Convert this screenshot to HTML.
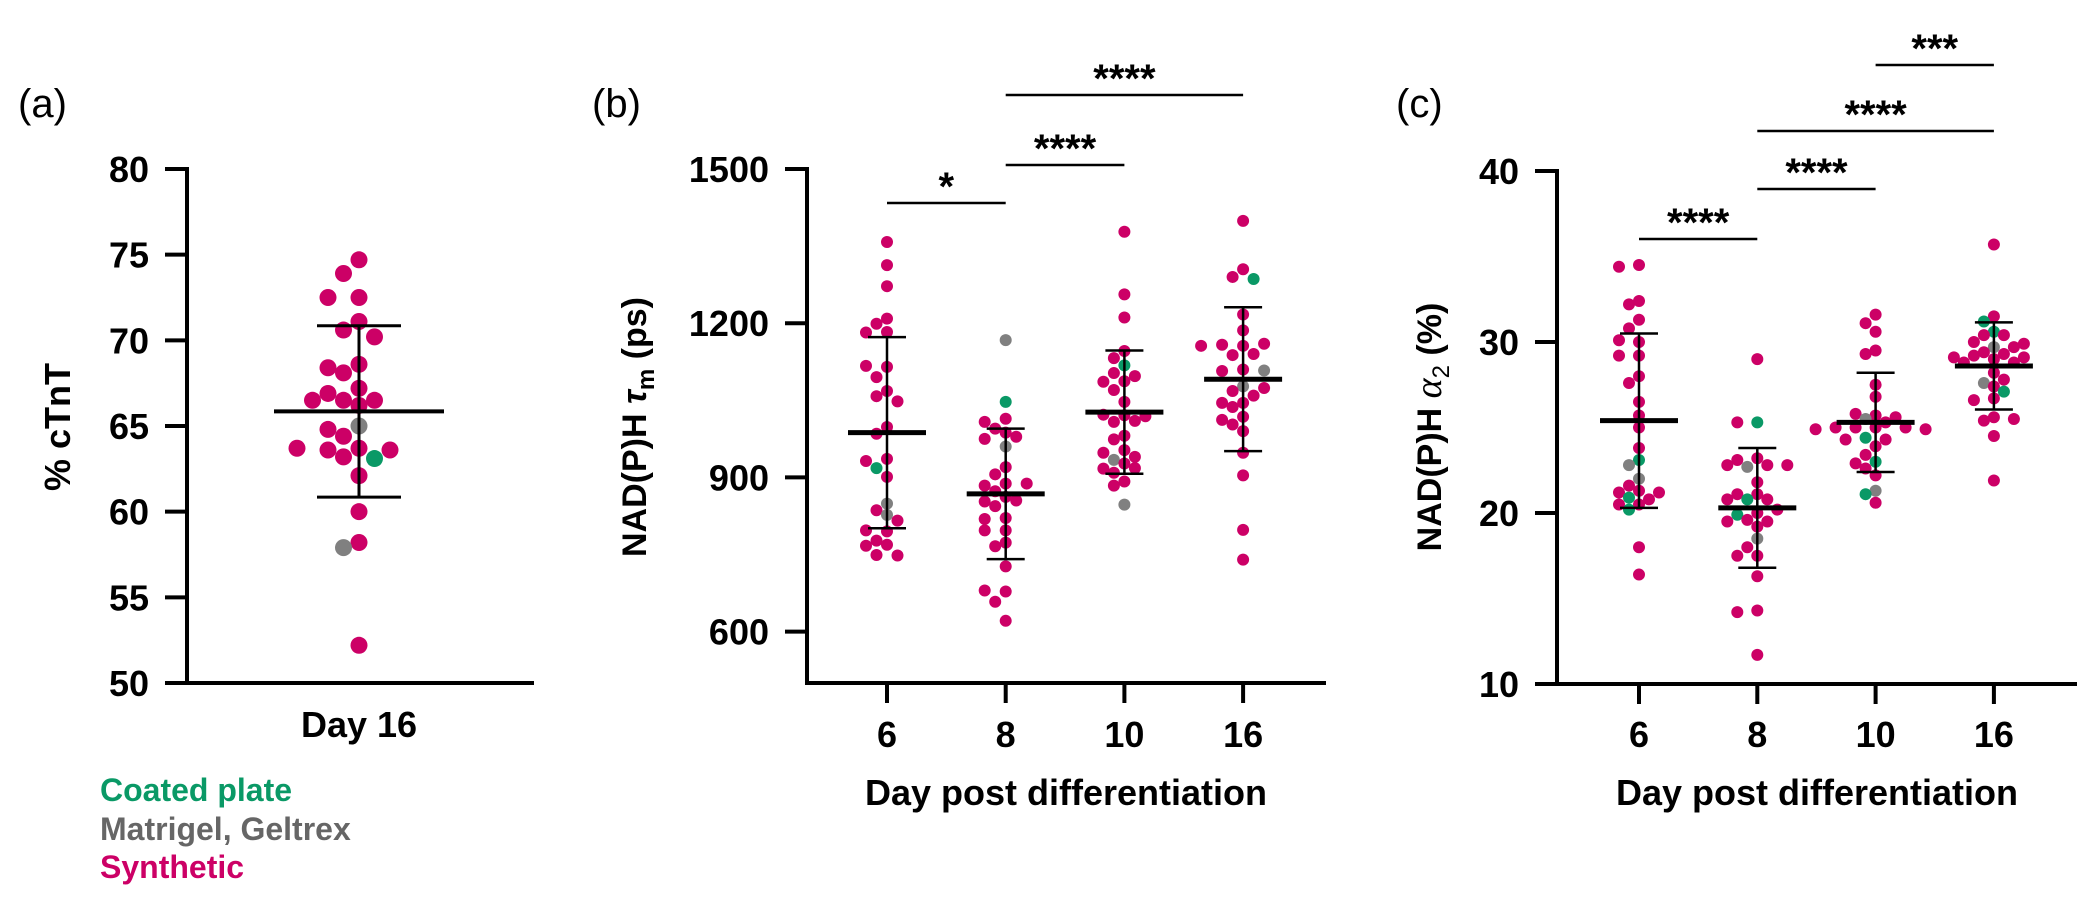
<!DOCTYPE html>
<html><head><meta charset="utf-8"><style>
html,body{margin:0;padding:0;background:#fff;}
svg{display:block;font-family:"Liberation Sans",Arial,sans-serif;}
</style></head><body>
<svg id="fig" width="2100" height="899" viewBox="0 0 2100 899" xmlns="http://www.w3.org/2000/svg">
<text x="18" y="117" font-size="40">(a)</text>
<text x="592" y="117" font-size="40">(b)</text>
<text x="1396" y="117" font-size="40">(c)</text>
<text transform="translate(70,427) rotate(-90)" text-anchor="middle" font-size="36" font-weight="bold">% cTnT</text>
<text transform="translate(646,427) rotate(-90)" text-anchor="middle" font-size="34" font-weight="bold">NAD(P)H <tspan font-style="italic">τ</tspan><tspan font-size="24" dy="8">m</tspan><tspan dy="-8"> (ps)</tspan></text>
<text transform="translate(1441,427) rotate(-90)" text-anchor="middle" font-size="34" font-weight="bold">NAD(P)H <tspan font-family="Liberation Serif, serif" font-style="italic" font-weight="normal" font-size="38">α</tspan><tspan font-size="24" font-weight="normal" dy="8">2</tspan><tspan dy="-8"> (%)</tspan></text>
<text x="1066" y="805" text-anchor="middle" font-size="36" font-weight="bold">Day post differentiation</text>
<text x="1817" y="805" text-anchor="middle" font-size="36" font-weight="bold">Day post differentiation</text>
<text x="100" y="801" font-size="32" font-weight="bold" fill="#0a9966">Coated plate</text>
<text x="100" y="840" font-size="32" font-weight="bold" fill="#666666">Matrigel, Geltrex</text>
<text x="100" y="878" font-size="32" font-weight="bold" fill="#cc0066">Synthetic</text>
</svg>
<script>
// ---------- data ----------
const aCats = ['Day 16'];
const aTicks = [50, 55, 60, 65, 70, 75, 80];
const aVals = [74.7,73.9,72.5,72.5,71.1,70.6,70.2,68.6,68.4,68.1,67.2,66.2,66.5,66.5,66.5,66.9,65.0,64.8,64.4,63.7,63.6,63.6,63.7,63.2,63.1,62.1,60.0,58.2,57.9,52.2];
const aTypes = ['S','S','S','S','S','S','S','S','S','S','S','S','S','S','S','S','M','S','S','S','S','S','S','S','C','S','S','S','M','S'];
const aMean = [65.85];
const aSD = [5.0];

const bCats = ['6','8','10','16'];
const bTicks = [600, 900, 1200, 1500];
const bVals6 = [1358,1313,1272,1209,1199,1183,1182,1115,1117,1095,1068,1058,1048,998,985,936,932,918,901,849,836,827,816,795,797,777,769,767,749,748];
const bTypes6 = ['S','S','S','S','S','S','S','S','S','S','S','S','S','S','S','S','S','C','S','M','S','M','S','S','S','S','S','S','S','S'];
const bVals8 = [1167,1047,1014,1008,987,995,979,975,960,920,906,888,884,888,873,862,855,853,844,821,819,797,797,773,766,727,678,680,658,621];
const bTypes8 = ['M','C','S','S','S','S','S','S','M','S','S','S','S','S','S','S','S','S','S','S','S','S','S','S','S','S','S','S','S','S'];
const bVals10 = [1378,1256,1211,1146,1132,1118,1103,1097,1087,1086,1070,1047,1021,1022,1019,1008,1010,981,974,953,948,934,940,927,918,917,909,892,884,847];
const bTypes10 = ['S','S','S','S','S','C','S','S','S','S','S','S','S','S','S','S','S','S','S','S','S','M','S','S','S','S','S','S','S','M'];
const bVals16 = [1399,1305,1290,1286,1217,1186,1156,1158,1160,1156,1138,1140,1110,1107,1108,1077,1068,1074,1059,1045,1045,1037,1018,1012,1003,990,948,904,798,740];
const bTypes16 = ['S','S','S','C','S','S','S','S','S','S','S','S','S','S','M','M','S','S','S','S','S','S','S','S','S','S','S','S','S','S'];
const bMean = [987, 868, 1027, 1091];
const bSD = [186, 127, 120, 140];
const bSigFrom = [0, 1, 1];
const bSigTo = [1, 2, 3];
const bSigLabel = ['*', '****', '****'];

const cCats = ['6','8','10','16'];
const cTicks = [10, 20, 30, 40];
const cVals6 = [34.5,34.4,32.4,32.2,31.3,30.8,30.0,30.1,29.2,29.2,28.0,27.6,26.5,25.7,25.0,23.8,23.1,22.8,22.0,21.6,21.3,21.2,21.2,20.9,20.8,20.5,20.5,20.2,18.0,16.4];
const cTypes6 = ['S','S','S','S','S','S','S','S','S','S','S','S','S','S','S','S','C','M','M','S','S','S','S','C','S','S','S','C','S','S'];
const cVals8 = [29.0,25.3,25.3,23.2,23.1,22.7,22.8,22.8,22.8,21.8,21.1,21.1,20.8,20.8,20.8,20.0,19.9,20.2,19.6,19.5,19.5,19.2,18.5,18.0,17.5,17.5,16.3,14.3,14.2,11.7];
const cTypes8 = ['S','C','S','S','S','M','S','S','S','S','S','S','C','S','S','S','C','S','S','S','S','S','M','S','S','S','S','S','S','S'];
const cVals10 = [31.6,31.1,30.6,29.5,29.3,27.5,26.8,25.7,25.8,25.5,25.6,25.3,25.0,25.0,25.0,25.0,24.9,24.9,24.4,24.3,24.3,23.9,23.4,23.0,22.9,22.6,22.2,21.3,21.1,20.6];
const cTypes10 = ['S','S','S','S','S','S','S','S','S','M','S','S','S','S','S','S','S','S','C','S','S','S','S','C','S','S','S','M','C','S'];
const cVals16 = [35.7,31.5,31.2,30.6,30.4,30.4,30.0,29.7,29.7,29.9,29.4,29.3,29.2,29.0,29.1,29.1,28.8,28.8,28.2,27.6,27.8,27.4,27.1,26.7,26.6,25.6,25.4,25.5,24.5,21.9];
const cTypes16 = ['S','S','C','C','S','S','S','M','S','S','S','S','S','S','S','S','S','S','S','M','S','S','C','S','S','S','S','S','S','S'];
const cMean = [25.4, 20.3, 25.3, 28.6];
const cSD = [5.1, 3.5, 2.9, 2.55];
const cSigFrom = [0, 1, 1, 2];
const cSigTo = [1, 2, 3, 3];
const cSigLabel = ['****', '****', '****', '***'];

// ---------- rendering ----------
const NS = 'http://www.w3.org/2000/svg';
const svg = document.getElementById('fig');
const COLORS = {S:'#cc0066', M:'#808080', C:'#0a9966'};
function mk(tag, attrs, parent) {
  const e = document.createElementNS(NS, tag);
  for (const k in attrs) e.setAttribute(k, attrs[k]);
  (parent || svg).appendChild(e);
  return e;
}
function linScale(d0, d1, r0, r1) { return v => r0 + (v - d0) * (r1 - r0) / (d1 - d0); }

function swarm(vals, ys, cx, d, step, tight) {
  const placed = [];
  const xs = [];
  vals.forEach((v, i) => {
    const y = ys(v);
    let x = cx;
    for (let n = 0; n < 40; n++) {
      const off = n === 0 ? 0 : (n % 2 ? -1 : 1) * Math.ceil(n / 2);
      x = cx + off * step;
      let ok = true;
      for (const p of placed) {
        const dx = p[0] - x, dy = p[1] - y;
        if (dx * dx + dy * dy < d * d * tight) { ok = false; break; }
      }
      if (ok) break;
    }
    placed.push([x, y]);
    xs.push(x);
  });
  return xs;
}

function drawPanel(p) {
  const g = mk('g', {});
  
  
  const ys = linScale(p.dmin, p.dmax, p.yBottom, p.yTop);
  const xc = i => p.x0 + p.xStep * i;
  const ya = mk('line', {x1:p.axisX, y1:p.yTop - 2, x2:p.axisX, y2:p.yBottom + 2, stroke:'#000', 'stroke-width':4}, g);
  
  
  const xa = mk('line', {x1:p.axisX - 2, y1:p.yBottom, x2:p.xEnd, y2:p.yBottom, stroke:'#000', 'stroke-width':4}, g);
  
  
  p.ticks.forEach(t => {
    const y = ys(t);
    const tl = mk('line', {x1:p.axisX - 22, y1:y, x2:p.axisX, y2:y, stroke:'#000', 'stroke-width':4}, g);
    
    
    const tx = mk('text', {x:p.axisX - 38, y:y + 13, 'text-anchor':'end', 'font-size':36, 'font-weight':'bold'}, g);
    tx.textContent = t;
    
    
  });
  p.cats.forEach((c, i) => {
    if (p.xTicks) {
      const tk = mk('line', {x1:xc(i), y1:p.yBottom, x2:xc(i), y2:p.yBottom + 20, stroke:'#000', 'stroke-width':4}, g);
      
      
    }
    const tx = mk('text', {x:xc(i), y:p.xLabelY, 'text-anchor':'middle', 'font-size':36, 'font-weight':'bold'}, g);
    tx.textContent = c;
    
    
  });
  p.groups.forEach((grp, i) => {
    const xs = swarm(grp.vals, ys, xc(i), p.r * 2, p.step, p.tight);
    grp.vals.forEach((v, j) => {
      const c = mk('circle', {cx:xs[j], cy:ys(v), r:p.r, fill:COLORS[grp.types[j]]}, g);
      
      
    });
  });
  p.means.forEach((m, i) => {
    const cx = xc(i);
    const sd = p.sds[i];
    const ml = mk('line', {x1:cx - p.meanHalf, y1:ys(m), x2:cx + p.meanHalf, y2:ys(m), stroke:'#000', 'stroke-width':p.meanW}, g);
    
    
    const el = mk('line', {x1:cx, y1:ys(m + sd), x2:cx, y2:ys(m - sd), stroke:'#000', 'stroke-width':p.errW}, g);
    
    
    [m + sd, m - sd].forEach(v => {
      const cap = mk('line', {x1:cx - p.capHalf, y1:ys(v), x2:cx + p.capHalf, y2:ys(v), stroke:'#000', 'stroke-width':p.errW}, g);
      
      
    });
  });
  if (p.sigFrom) {
    p.sigFrom.forEach((f, i) => {
      const y = p.sigY[i];
      const x1 = xc(f), x2 = xc(p.sigTo[i]);
      const sl = mk('line', {x1:x1, y1:y, x2:x2, y2:y, stroke:'#000', 'stroke-width':2.5}, g);
      
      
      const st = mk('text', {x:(x1 + x2) / 2, y:y - 3, 'text-anchor':'middle', 'font-size':40, 'font-weight':'bold'}, g);
      st.textContent = p.sigLabel[i];
      
      
    });
  }
}

drawPanel({name:'panel-a', dmin:50, dmax:80, yTop:169, yBottom:683, axisX:187, xEnd:534,
  x0:359, xStep:0, cats:aCats, ticks:aTicks, xTicks:false, xLabelY:737,
  groups:[{vals:aVals, types:aTypes}], means:aMean, sds:aSD,
  r:8.5, step:15.5, tight:0.9, meanHalf:85, capHalf:42, meanW:4, errW:3});

drawPanel({name:'panel-b', dmin:500, dmax:1500, yTop:169, yBottom:683, axisX:807, xEnd:1326,
  x0:887, xStep:118.7, cats:bCats, ticks:bTicks, xTicks:true, xLabelY:747,
  groups:[{vals:bVals6, types:bTypes6},{vals:bVals8, types:bTypes8},{vals:bVals10, types:bTypes10},{vals:bVals16, types:bTypes16}],
  means:bMean, sds:bSD, r:6, step:10.5, tight:0.85, meanHalf:39, capHalf:19, meanW:5, errW:2.5,
  sigFrom:bSigFrom, sigTo:bSigTo, sigLabel:bSigLabel, sigY:[203, 165, 95]});

drawPanel({name:'panel-c', dmin:10, dmax:40, yTop:171, yBottom:684, axisX:1557, xEnd:2077,
  x0:1639, xStep:118.3, cats:cCats, ticks:cTicks, xTicks:true, xLabelY:747,
  groups:[{vals:cVals6, types:cTypes6},{vals:cVals8, types:cTypes8},{vals:cVals10, types:cTypes10},{vals:cVals16, types:cTypes16}],
  means:cMean, sds:cSD, r:6, step:10, tight:0.75, meanHalf:39, capHalf:19, meanW:5, errW:2.5,
  sigFrom:cSigFrom, sigTo:cSigTo, sigLabel:cSigLabel, sigY:[239, 189, 131, 65]});
</script>
</body></html>
